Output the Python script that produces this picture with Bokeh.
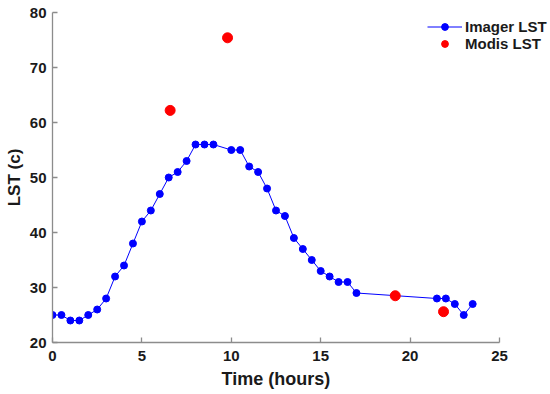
from bokeh.plotting import figure
from bokeh.models import Legend, LegendItem, Range1d, FixedTicker, Title
from bokeh.embed import file_html
from bokeh.resources import INLINE

imager_hours = [0, 0.5, 1, 1.5, 2, 2.5, 3, 3.5, 4, 4.5, 5, 5.5, 6, 6.5, 7, 7.5, 8, 8.5, 9,
                10, 10.5, 11, 11.5, 12, 12.5, 13, 13.5, 14, 14.5, 15, 15.5, 16, 16.5, 17,
                21.5, 22, 22.5, 23, 23.5]
imager_lst = [25, 25, 24, 24, 25, 26, 28, 32, 34, 38, 42, 44, 47, 50, 51, 53, 56, 56, 56,
              55, 55, 52, 51, 48, 44, 43, 39, 37, 35, 33, 32, 31, 31, 29,
              28, 28, 27, 25, 27]
modis_hours = [6.58, 9.79, 19.17, 21.87]
modis_lst = [62.2, 75.4, 28.5, 25.6]
x_ticks = [0, 5, 10, 15, 20, 25]
y_ticks = [20, 30, 40, 50, 60, 70, 80]

FONT = "Liberation Sans"
TXT = "#1a1a1a"
AX = "#8c8c8c"

W, H = 550, 394
LEFT, TOP, BOTTOM = 52, 12, 52
frame_w = W - LEFT
x_end = 25 * frame_w / 447.0

p = figure(width=W, height=H, output_backend="svg", toolbar_location=None,
           x_range=Range1d(0, x_end), y_range=Range1d(20, 80),
           min_border_left=LEFT, min_border_right=0, min_border_top=TOP,
           min_border_bottom=BOTTOM)
p.outline_line_color = None
p.grid.visible = False
p.background_fill_color = "white"
p.border_fill_color = "white"

for ax in (p.xaxis[0], p.yaxis[0]):
    ax.axis_line_color = AX
    ax.axis_line_width = 1.3
    ax.major_tick_line_color = AX
    ax.major_tick_line_width = 1.3
    ax.major_tick_in = 5
    ax.major_tick_out = 0
    ax.minor_tick_line_color = None
    ax.major_label_text_font = FONT
    ax.major_label_text_font_style = "bold"
    ax.major_label_text_font_size = "15px"
    ax.major_label_text_color = TXT
    ax.axis_label_text_font = FONT
    ax.axis_label_text_font_style = "bold"
    ax.axis_label_text_color = TXT

p.xaxis.bounds = (0, 25)
p.xaxis.ticker = FixedTicker(ticks=x_ticks)
p.yaxis.ticker = FixedTicker(ticks=y_ticks)
p.yaxis.axis_label = "LST (c)"
p.yaxis.axis_label_text_font_size = "17px"
p.xaxis.major_label_standoff = 8
p.yaxis.major_label_standoff = 6
p.yaxis.axis_label_standoff = 3

xlabel = Title(text="Time (hours)", align="left", offset=169, standoff=6,
               text_font=FONT, text_font_style="bold", text_font_size="18px",
               text_color=TXT)
p.add_layout(xlabel, "below")

ln = p.line(imager_hours, imager_lst, line_color="#0000ff", line_width=1)
pts = p.scatter(imager_hours, imager_lst, size=7, fill_color="#0000ff", line_color="#0000ff")
md = p.scatter(modis_hours, modis_lst, size=10, fill_color="#ff0000", line_color="#ff0000")

legend = Legend(items=[LegendItem(label="Imager LST", renderers=[ln, pts]),
                       LegendItem(label="Modis LST", renderers=[md])],
                location=(375, 290))
legend.border_line_color = None
legend.background_fill_alpha = 0
legend.padding = 0
legend.margin = 0
legend.spacing = 0
legend.glyph_width = 35
legend.glyph_height = 17
legend.label_height = 17
legend.label_standoff = 3
legend.label_text_font = FONT
legend.label_text_font_style = "bold"
legend.label_text_font_size = "15px"
legend.label_text_color = TXT
p.add_layout(legend, "center")

open("out.html", "w").write(file_html(p, INLINE))
